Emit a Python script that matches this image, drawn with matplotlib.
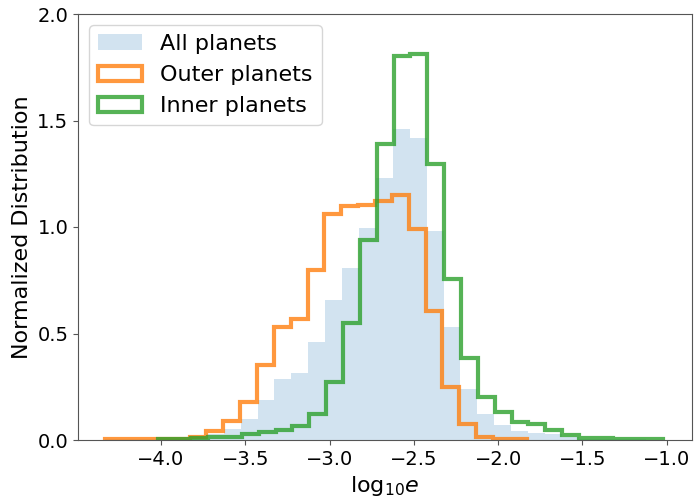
import numpy as np
import matplotlib
matplotlib.use("Agg")
import matplotlib.pyplot as plt

# Bin edges (log10 e)
all_edges = np.round(np.linspace(-4.33, -1.02, 34), 4)
outer_edges = np.round(-4.33 + 0.1 * np.arange(26), 3)
inner_edges = np.round(-4.02 + 0.1 * np.arange(31), 3)

# Normalized distributions
all_vals = [0.003, 0.003, 0.004, 0.005, 0.007, 0.012, 0.028, 0.05, 0.10, 0.19,
            0.285, 0.314, 0.458, 0.656, 0.806, 0.996, 1.23, 1.461, 1.42, 0.983,
            0.53, 0.239, 0.12, 0.072, 0.044, 0.034, 0.027, 0.012, 0.007, 0.005,
            0.004, 0.003, 0.002]
outer_vals = [0.003, 0.003, 0.003, 0.004, 0.006, 0.012, 0.04, 0.09, 0.18, 0.35,
              0.53, 0.567, 0.80, 1.06, 1.10, 1.105, 1.12, 1.15, 0.99, 0.605,
              0.25, 0.075, 0.012, 0.005, 0.004]
inner_vals = [0.003, 0.005, 0.008, 0.012, 0.015, 0.028, 0.036, 0.047, 0.067, 0.122,
              0.273, 0.55, 0.937, 1.39, 1.803, 1.813, 1.296, 0.757, 0.383, 0.203,
              0.13, 0.086, 0.075, 0.047, 0.023, 0.011, 0.008, 0.007, 0.006, 0.005]

labels = ["All planets", "Outer planets", "Inner planets"]
xticks = [-4.0, -3.5, -3.0, -2.5, -2.0, -1.5, -1.0]
yticks = [0.0, 0.5, 1.0, 1.5, 2.0]


def mids(e):
    return 0.5 * (e[:-1] + e[1:])


plt.rcParams['font.family'] = ['DejaVu Sans']
plt.rcParams['mathtext.fontset'] = 'dejavusans'
fig = plt.figure(figsize=(6.95, 5.0), dpi=100)
ax = fig.add_axes([0.1122, 0.12, 0.883, 0.852])

ax.hist(mids(all_edges), bins=all_edges, weights=all_vals, color='tab:blue',
        alpha=0.2, label=labels[0])
ax.hist(mids(outer_edges), bins=outer_edges, weights=outer_vals, histtype='step',
        color='tab:orange', alpha=0.8, lw=3, label=labels[1])
ax.hist(mids(inner_edges), bins=inner_edges, weights=inner_vals, histtype='step',
        color='tab:green', alpha=0.8, lw=3, label=labels[2])

ax.set_xlim(-4.4924, -0.8517)
ax.set_ylim(0, 2.0)
ax.set_xticks(xticks)
ax.set_yticks(yticks)
ax.tick_params(labelsize=14, color='#555555')
for s in ax.spines.values():
    s.set_color('#555555')
ax.set_xlabel(r"log$_{10}e$", fontsize=16)
ax.set_ylabel("Normalized Distribution", fontsize=16)
ax.legend(loc='upper left', fontsize=16)

fig.savefig("out.png", dpi=100)
